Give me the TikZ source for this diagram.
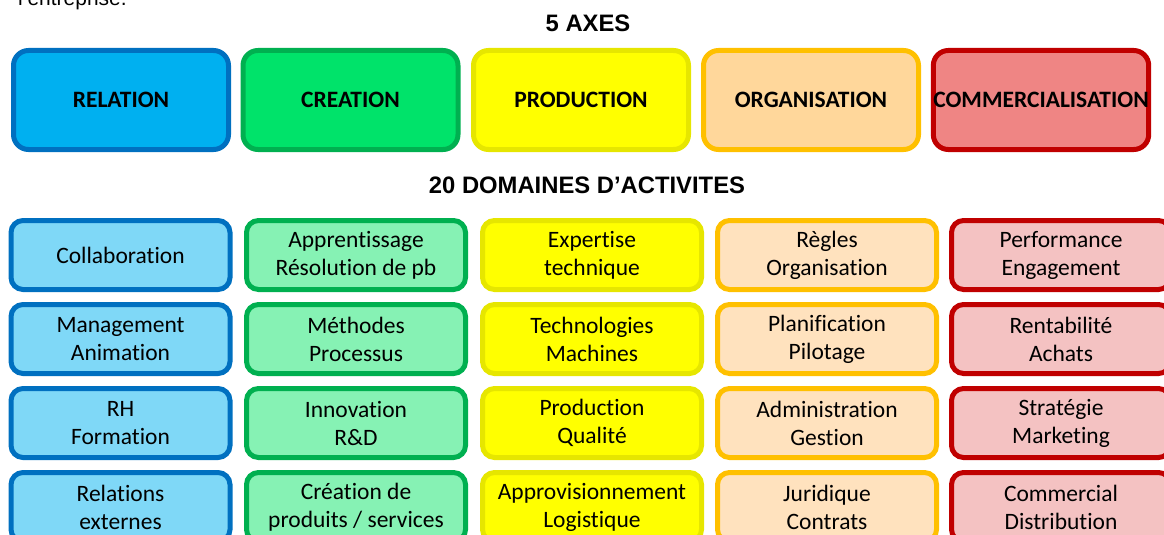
\documentclass[tikz,border=0pt]{standalone}
\usepackage{fontspec}
\setmainfont{Carlito}[Ligatures=NoCommon]
\newfontfamily\headfont{Liberation Sans}
\usepackage{xcolor}
\usepackage{tikz}

\definecolor{relborder}{HTML}{0070C0}
\definecolor{relfill}{HTML}{00B0F0}
\definecolor{relpale}{HTML}{7FD8F7}
\definecolor{creborder}{HTML}{00B050}
\definecolor{crefill}{HTML}{00E36A}
\definecolor{crepale}{HTML}{86F2B4}
\definecolor{proborder}{HTML}{E6E600}
\definecolor{profill}{HTML}{FFFF00}
\definecolor{orgborder}{HTML}{FFC000}
\definecolor{orgfill}{HTML}{FFD79B}
\definecolor{orgpale}{HTML}{FFE2BE}
\definecolor{comborder}{HTML}{C00000}
\definecolor{comfill}{HTML}{EF8584}
\definecolor{compale}{HTML}{F4C2C2}

\tikzset{
  axe/.style={draw,line width=5pt,rounded corners=15pt,minimum width=215pt,
    minimum height=99pt,inner sep=0pt,font=\fontsize{23.5}{27}\selectfont\bfseries},
  domaine/.style={draw,line width=5pt,rounded corners=12pt,minimum width=219pt,
    minimum height=69pt,inner sep=0pt,align=center,font=\fontsize{23.5}{28}\selectfont},
  titre/.style={anchor=base,font=\headfont\fontsize{23.8}{27}\selectfont\bfseries}
}

\begin{document}
\begin{tikzpicture}[x=1pt,y=-1pt]
\useasboundingbox (0,0) rectangle (1164,535);
\clip (0,0) rectangle (1164,535);

% End of the text above
\node[anchor=base west,inner sep=0pt,font=\headfont\fontsize{21}{24}\selectfont] (texte) at (18,6) {l’entreprise.};

% Axes
\node[titre] (axes) at (588,32) {5 AXES};

\node[axe,draw=relborder,fill=relfill] (relation) at (121,100) {RELATION};
\node[axe,draw=creborder,fill=crefill] (creation) at (350.5,100) {CREATION};
\node[axe,draw=proborder,fill=profill] (production) at (581,100) {PRODUCTION};
\node[axe,draw=orgborder,fill=orgfill] (organisation) at (811,100) {ORGANISATION};
\node[axe,draw=comborder,fill=comfill] (commercialisation) at (1041,100) {COMMERCIALISATION};

% Domaines
\node[titre] (domaines) at (587,193) {20 DOMAINES D’ACTIVITES};

% Relation
\node[domaine,draw=relborder,fill=relpale] (collab) at (120.5,255) {Collaboration};
\node[domaine,draw=relborder,fill=relpale] (manag) at (120.5,339) {Management\\Animation};
\node[domaine,draw=relborder,fill=relpale] (rh) at (120.5,423) {RH\\Formation};
\node[domaine,draw=relborder,fill=relpale] (relext) at (120.5,507) {Relations\\externes};

% Creation
\node[domaine,draw=creborder,fill=crepale] (apprent) at (356,255) {Apprentissage\\Résolution de pb};
\node[domaine,draw=creborder,fill=crepale] (methodes) at (356,339) {Méthodes\\Processus};
\node[domaine,draw=creborder,fill=crepale] (innov) at (356,423) {Innovation\\R\&D};
\node[domaine,draw=creborder,fill=crepale] (crprod) at (356,507) {Création de\\produits / services};

% Production
\node[domaine,draw=proborder,fill=profill] (expert) at (592,255) {Expertise\\technique};
\node[domaine,draw=proborder,fill=profill] (techno) at (592,339) {Technologies\\Machines};
\node[domaine,draw=proborder,fill=profill] (prodqual) at (592,423) {Production\\Qualité};
\node[domaine,draw=proborder,fill=profill] (appro) at (592,507) {Approvisionnement\\Logistique};

% Organisation
\node[domaine,draw=orgborder,fill=orgpale] (regles) at (827,255) {Règles\\Organisation};
\node[domaine,draw=orgborder,fill=orgpale] (planif) at (827,339) {Planification\\Pilotage};
\node[domaine,draw=orgborder,fill=orgpale] (admin) at (827,423) {Administration\\Gestion};
\node[domaine,draw=orgborder,fill=orgpale] (juri) at (827,507) {Juridique\\Contrats};

% Commercialisation
\node[domaine,draw=comborder,fill=compale] (perf) at (1061,255) {Performance\\Engagement};
\node[domaine,draw=comborder,fill=compale] (rentab) at (1061,339) {Rentabilité\\Achats};
\node[domaine,draw=comborder,fill=compale] (strat) at (1061,423) {Stratégie\\Marketing};
\node[domaine,draw=comborder,fill=compale] (commerc) at (1061,507) {Commercial\\Distribution};
\end{tikzpicture}
\end{document}
